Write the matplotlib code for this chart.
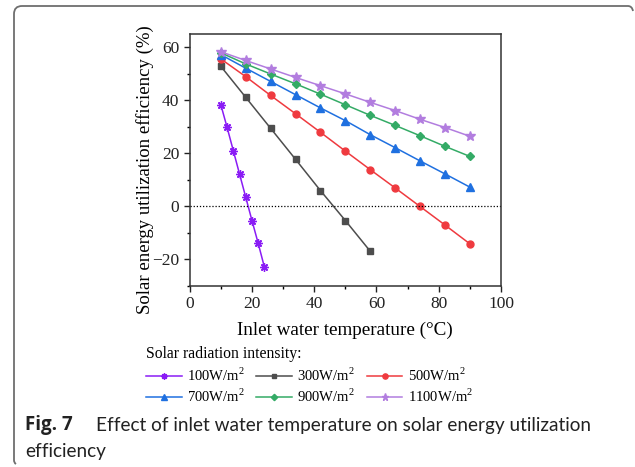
import matplotlib.pyplot as plt
from matplotlib.path import Path
from matplotlib.patches import PathPatch
from matplotlib.ticker import MultipleLocator

W, H = 635, 467

# inlet water temperature (°C)
t_100 = [10, 12, 14, 16, 18, 20, 22, 24]
t_300 = [10, 18, 26, 34, 42, 50, 58]
t_full = [10, 18, 26, 34, 42, 50, 58, 66, 74, 82, 90]

# solar energy utilization efficiency (%)
eff_100 = [38.3, 29.8, 21.0, 12.2, 3.4, -5.4, -14.0, -23.0]
eff_300 = [52.8, 41.1, 29.4, 17.7, 5.9, -5.4, -17.0]
eff_500 = [55.6, 48.9, 41.8, 34.9, 27.9, 20.8, 13.8, 6.9, -0.1, -7.1, -14.2]
eff_700 = [57.2, 52.1, 47.1, 42.1, 37.1, 32.3, 27.0, 22.1, 17.1, 12.2, 7.2]
eff_900 = [57.9, 53.7, 49.9, 46.2, 42.3, 38.3, 34.3, 30.5, 26.6, 22.6, 18.8]
eff_1100 = [58.3, 55.0, 51.8, 48.6, 45.5, 42.4, 39.2, 36.1, 32.8, 29.7, 26.4]

labels = ['100W/m$^2$', '300W/m$^2$', '500W/m$^2$',
          '700W/m$^2$', '900W/m$^2$', '1100W/m$^2$']

plt.rcParams['font.family'] = 'Liberation Serif'
plt.rcParams['mathtext.fontset'] = 'custom'
plt.rcParams['mathtext.rm'] = 'Liberation Serif'

fig = plt.figure(figsize=(W / 100, H / 100), dpi=100)
ax = fig.add_axes([189.7 / W, 1 - 285.7 / H, (501 - 189.7) / W, (285.7 - 34) / H])

lw = 1.1
h1, = ax.plot(t_100, eff_100, color='#8a1cf5', marker=(8, 2, 0), ms=6, mew=1.0, lw=lw)
h2, = ax.plot(t_300, eff_300, color='#4d4d4d', marker='s', ms=4.5, lw=lw)
h3, = ax.plot(t_full, eff_500, color='#ef3a3f', marker='o', ms=5, lw=lw)
h4, = ax.plot(t_full, eff_700, color='#1f70e0', marker='^', ms=5.5, lw=lw)
h5, = ax.plot(t_full, eff_900, color='#34ab66', marker='D', ms=4.3, lw=lw)
h6, = ax.plot(t_full, eff_1100, color='#b27ddf', marker='*', ms=7, lw=lw)

ax.axhline(0, color='black', lw=0.9, ls=(0, (1, 1.5)))

ax.set_xlim(0, 100)
ax.set_ylim(-30, 65)
ax.xaxis.set_major_locator(MultipleLocator(20))
ax.xaxis.set_minor_locator(MultipleLocator(10))
ax.yaxis.set_major_locator(MultipleLocator(20))
ax.yaxis.set_minor_locator(MultipleLocator(10))
ax.tick_params(which='major', direction='out', length=4, width=1, labelsize=12.5, colors='#222222')
ax.tick_params(which='minor', direction='out', length=2.5, width=1)
for s in ax.spines.values():
    s.set_linewidth(1.1)
    s.set_color('#333333')

ax.set_xlabel('Inlet water temperature (°C)', fontsize=13.8, labelpad=7)
ax.set_ylabel('Solar energy utilization efficiency (%)', fontsize=13.5)
ax.yaxis.set_label_coords(-0.116, 0.46)

# legend fills columns first, so order entries to get rows 100/300/500 and 700/900/1100
hs = [h1, h4, h2, h5, h3, h6]
ls = [labels[0], labels[3], labels[1], labels[4], labels[2], labels[5]]
leg = fig.legend(hs, ls, ncol=3, loc='upper left', bbox_to_anchor=(146 / W, 1 - 346 / H),
                 frameon=False, fontsize=10.5, title='Solar radiation intensity:',
                 title_fontsize=11.3, markerscale=0.75, handlelength=2.45,
                 handletextpad=0.35, columnspacing=0.8, labelspacing=0.3,
                 borderaxespad=0, borderpad=0)
leg._legend_box.align = 'left'

# caption
fig.text(25 / W, 1 - 425 / H, 'Fig. 7', fontsize=13.5, fontweight='bold',
         family='Open Sans', va='center', color='#222222')
fig.text(96 / W, 1 - 425 / H, 'Effect of inlet water temperature on solar energy utilization',
         fontsize=13.7, family='Lato', va='center', color='#222222')
fig.text(25 / W, 1 - 452 / H, 'efficiency', fontsize=13.7, family='Lato',
         va='center', color='#222222')

# rounded frame along the top and left edges
pts = [(633, 11), (632, 6), (628, 6),
       (22, 6),
       (14, 6), (14, 14),
       (14, 460),
       (14, 463), (16, 464)]
codes = [Path.MOVETO, Path.CURVE3, Path.CURVE3,
         Path.LINETO,
         Path.CURVE3, Path.CURVE3,
         Path.LINETO,
         Path.CURVE3, Path.CURVE3]
verts = [(x / W, 1 - y / H) for x, y in pts]
fig.add_artist(PathPatch(Path(verts, codes), fill=False, edgecolor='#6e6e6e',
                         lw=1.3, transform=fig.transFigure))

fig.savefig('out.png', dpi=100)
